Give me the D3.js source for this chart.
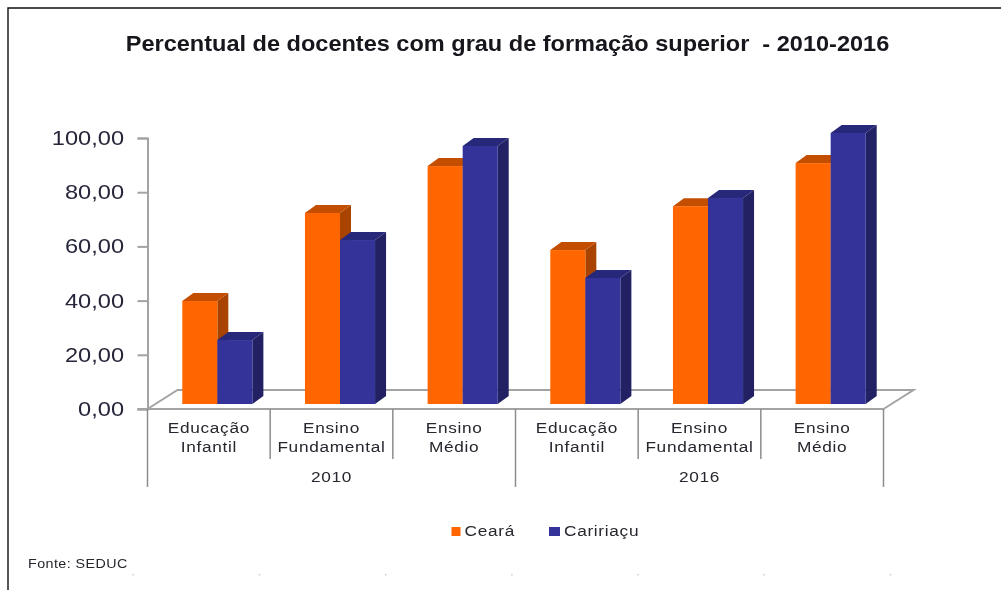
<!DOCTYPE html>
<html lang="en">
  <head>
    <meta charset="utf-8" />
    <title>Percentual de docentes</title>
    <script src="https://d3js.org/d3.v7.min.js"></script>
    <style type="text/css">
      html, body { margin: 0; padding: 0; background: #fff; overflow: hidden; }
      svg { display: block; font-family: "Liberation Sans", Arial, sans-serif; filter: blur(0.4px); }
      .cat { font-size: 15px; letter-spacing: 0.6px; fill: #26262e; }
    </style>
  </head>
  <body>
    <svg id="chart" width="1001" height="590"></svg>
    <script type="text/javascript">
      // chart values
      const years = ["2010", "2016"];
      const categories = [
        ["Educação", "Infantil"], ["Ensino", "Fundamental"], ["Ensino", "Médio"],
        ["Educação", "Infantil"], ["Ensino", "Fundamental"], ["Ensino", "Médio"]
      ];
      const seriesNames = ["Ceará", "Caririaçu"];
      const ceara = [38, 70.5, 87.8, 56.8, 73, 88.9];
      const caririacu = [23.6, 60.5, 95.2, 46.5, 76, 100];
      const yTicks = [0, 20, 40, 60, 80, 100];

      const svg = d3.select("#chart");
      const front = ["#ff6600", "#333399"];
      const side = ["#a84300", "#212163"];
      const topc = ["#c44e00", "#28287a"];
      const axisGray = "#a3a3a3";

      // depth of the 3d look
      const depthX = 11, depthY = 8;
      const shiftX = 8.5, shiftY = 5;

      const y = d3.scaleLinear().domain([0, 100]).range([409, 138]);
      const x = d3.scaleBand().domain(d3.range(6)).range([147.5, 883.5]);
      const xBar = d3.scaleBand().domain([0, 1]).range([0, x.bandwidth()]).paddingInner(0).paddingOuter(0.75);
      const fmt = v => v.toFixed(2).replace(".", ",");

      // the source picture is stretched sideways, so the text is too
      const place = (px, py, sx) => `translate(${px},${py}) scale(${sx},1)`;

      // image frame
      svg.append("path").attr("d", "M8 590V8H1001").attr("fill", "none").attr("stroke", "#111").attr("stroke-width", 1.4);

      // title
      svg.append("text").attr("transform", place(507.5, 51, 1.07)).attr("text-anchor", "middle")
        .attr("font-size", 22).attr("font-weight", "bold").attr("fill", "#16161c")
        .style("white-space", "pre")
        .text("Percentual de docentes com grau de formação superior  - 2010-2016");

      // floor
      const x0 = x.range()[0], x1 = x.range()[1], y0 = y(0);
      svg.append("path")
        .attr("d", `M${x0} ${y0}L${x0 + 30} ${y0 - 19}H${x1 + 30}L${x1} ${y0}`)
        .attr("fill", "none").attr("stroke", axisGray).attr("stroke-width", 2);

      // bars
      const barData = [];
      categories.forEach((c, i) => {
        [ceara[i], caririacu[i]].forEach((v, s) => barData.push({ i, s, v }));
      });
      const bw = xBar.bandwidth();
      const bars = svg.selectAll("g.bar").data(barData).enter().append("g").attr("class", "bar")
        .attr("transform", d => `translate(${x(d.i) + xBar(d.s) + shiftX},${-shiftY})`);
      bars.append("path").attr("fill", d => side[d.s])
        .attr("d", d => `M${bw} ${y(0)}V${y(d.v)}l${depthX} ${-depthY}V${y(0) - depthY}Z`);
      bars.append("path").attr("fill", d => topc[d.s])
        .attr("d", d => `M0 ${y(d.v)}l${depthX} ${-depthY}H${bw + depthX}L${bw} ${y(d.v)}Z`);
      bars.append("rect").attr("width", bw).attr("y", d => y(d.v))
        .attr("height", d => y(0) - y(d.v)).attr("fill", d => front[d.s]);

      // y axis
      const yAxis = svg.append("g").attr("transform", `translate(${x0},0)`)
        .call(d3.axisLeft(y).tickValues(yTicks).tickFormat(fmt).tickSize(10));
      yAxis.selectAll("path,line").attr("stroke", axisGray).attr("stroke-width", 2);
      yAxis.selectAll("text").attr("x", 0).attr("transform", place(-23.5, 0, 1.18))
        .attr("font-family", "'Liberation Sans'").attr("font-size", 20).attr("fill", "#26263a");

      // x axis line and separators
      svg.append("line").attr("x1", x0 - 10).attr("x2", x1).attr("y1", y0).attr("y2", y0)
        .attr("stroke", axisGray).attr("stroke-width", 2);
      d3.range(7).forEach(i => {
        const px = i < 6 ? x(i) : x1;
        svg.append("line").attr("x1", px).attr("x2", px).attr("y1", y0).attr("y2", i % 3 === 0 ? 487 : 459)
          .attr("stroke", "#8c8c8c").attr("stroke-width", 1.5);
      });

      // category labels
      categories.forEach((c, i) => {
        c.forEach((t, l) => {
          svg.append("text").attr("class", "cat").attr("text-anchor", "middle")
            .attr("transform", place(x(i) + x.bandwidth() / 2, 432.5 + l * 19, 1.15)).text(t);
        });
      });
      years.forEach((t, i) => {
        svg.append("text").attr("class", "cat").attr("text-anchor", "middle")
          .attr("transform", place(x(i * 3 + 1) + x.bandwidth() / 2, 482, 1.15)).text(t);
      });

      // legend
      const legendX = [451.5, 549];
      seriesNames.forEach((t, i) => {
        svg.append("rect").attr("x", legendX[i]).attr("y", 527).attr("width", i ? 11 : 9).attr("height", 9).attr("fill", front[i]);
        svg.append("text").attr("class", "cat")
          .attr("transform", place(legendX[i] + (i ? 15 : 13), 536, 1.15)).text(t);
      });

      // source
      svg.append("text").attr("transform", place(28, 568, 1.1)).attr("font-size", 13).attr("letter-spacing", 0.4)
        .attr("fill", "#26262e").text("Fonte: SEDUC");

      // faint specks left along the bottom of the scan
      d3.range(7).forEach(i => {
        svg.append("rect").attr("x", 132.5 + i * 126.2).attr("y", 574).attr("width", 1.5).attr("height", 1.5).attr("fill", "#ccc");
      });
    </script>
  </body>
</html>
